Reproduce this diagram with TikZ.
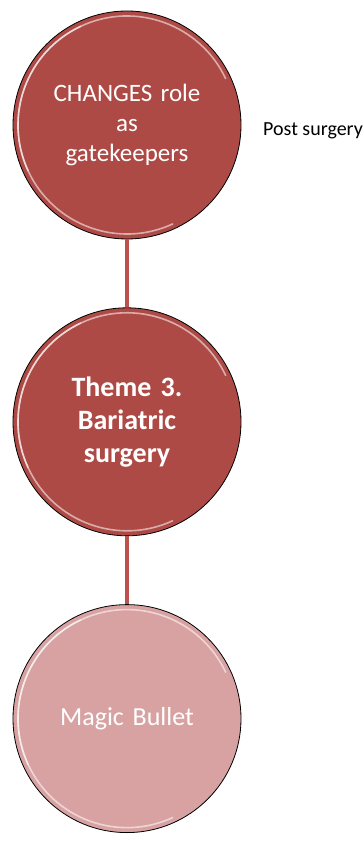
\documentclass[tikz,border=0pt]{standalone}
\usepackage{fontspec}
\setmainfont{Carlito}
\usetikzlibrary{positioning,calc}
\definecolor{themered}{HTML}{AE4A46}
\definecolor{themepink}{HTML}{D8A2A2}
\definecolor{linkred}{HTML}{C0504D}

\begin{document}
\begin{tikzpicture}[x=1bp, y=1bp, node distance=68bp,
  bubble/.style={circle, draw=black, line width=0.8bp, minimum size=228bp,
    inner sep=0pt, align=center, text=white, text width=170bp},
  link/.style={draw=linkred, line width=3.5bp},
  bevel/.style={white, opacity=0.55, line width=1.6bp}]
  \useasboundingbox (0,0) rectangle (363,841);

  \node[bubble, fill=themered, font=\fontsize{25bp}{30bp}\selectfont] (gate) at (127,716)
    {CHANGES role\\as\\gatekeepers};
  \node[bubble, fill=themered, font=\fontsize{28bp}{33bp}\selectfont\bfseries, below=of gate] (theme)
    {Theme 3.\\Bariatric\\surgery};
  \node[bubble, fill=themepink, font=\fontsize{26bp}{31bp}\selectfont, below=of theme] (bullet)
    {Magic Bullet};

  % highlight rings
  \foreach \b in {gate,theme,bullet} {
    \draw[bevel] ($(\b.center)+(115:109)$) arc (115:205:109);
    \draw[bevel] ($(\b.center)+(295:109)$) arc (295:25:109);
  }

  \draw[link] (gate.south)--(theme.north);
  \draw[link] (theme.south)--(bullet.north);

  \node[anchor=base west, inner sep=0pt, font=\fontsize{20bp}{24bp}\selectfont] (post) at (263,705)
    {Post surgery};
\end{tikzpicture}
\end{document}
